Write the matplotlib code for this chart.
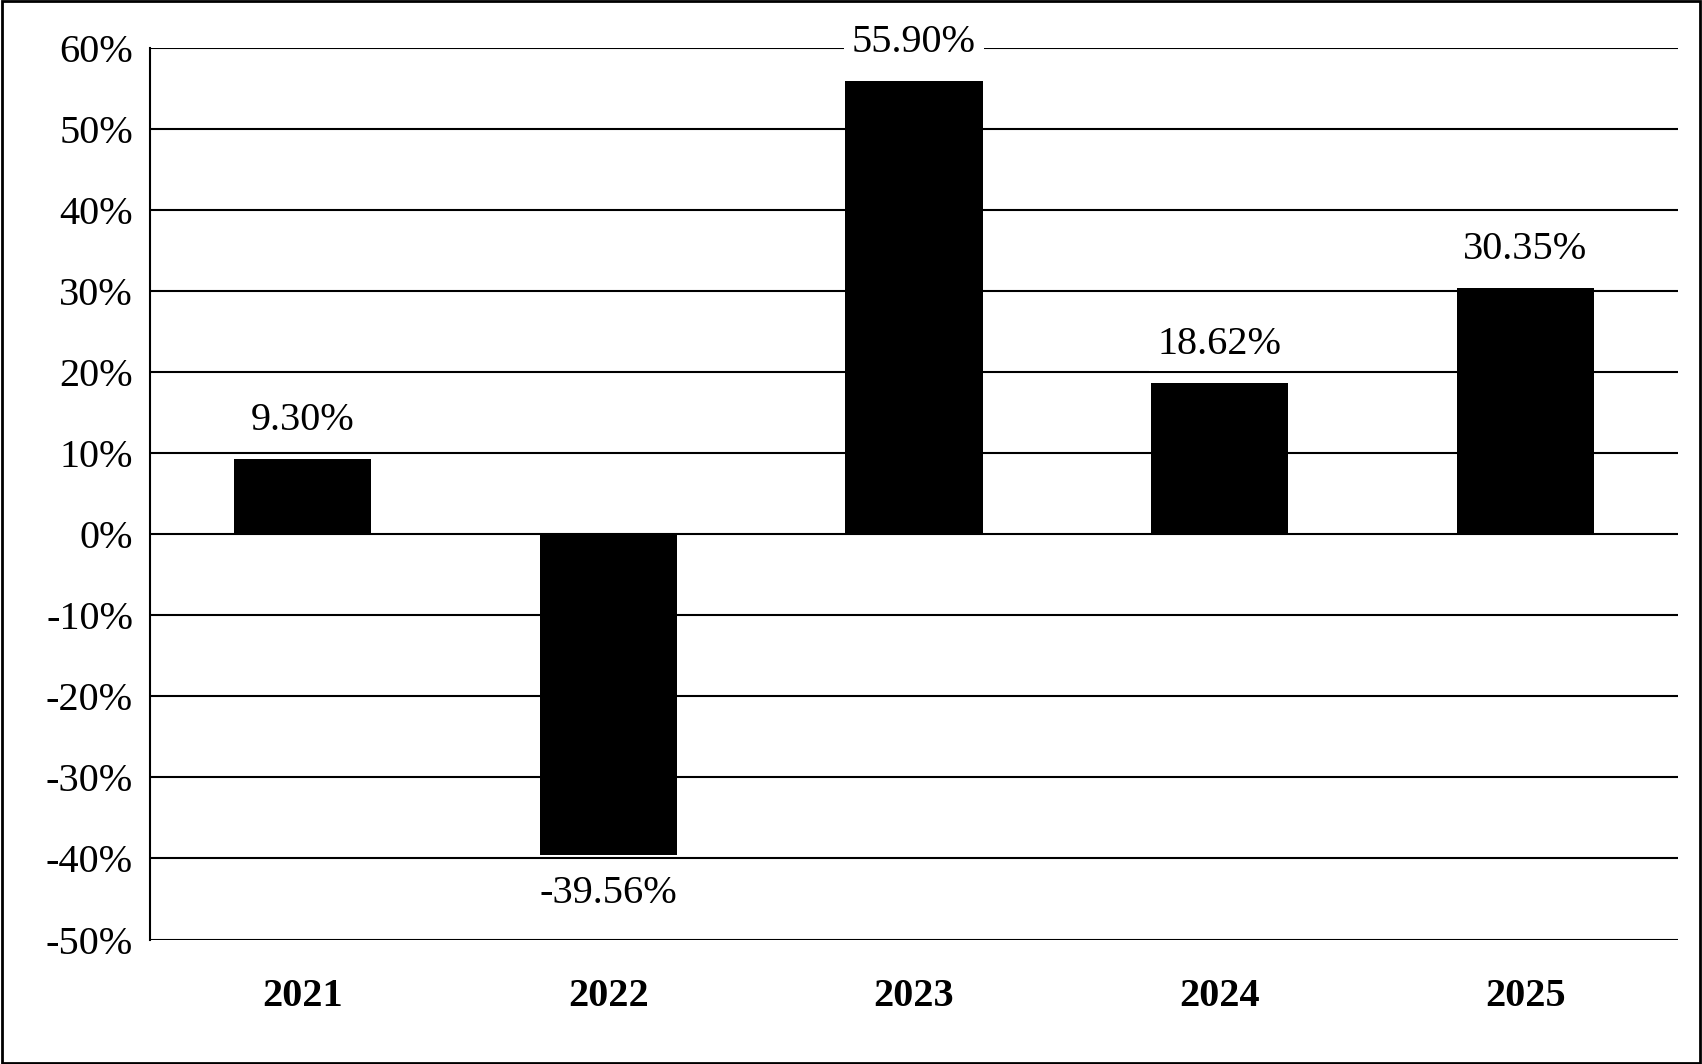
import matplotlib.pyplot as plt
import numpy as np

years = ['2021', '2022', '2023', '2024', '2025']
returns = [9.30, -39.56, 55.90, 18.62, 30.35]
yticks = list(range(-50, 61, 10))

plt.rcParams['font.family'] = ['Liberation Serif', 'DejaVu Serif']

fig = plt.figure(figsize=(17.02, 10.64), dpi=100)
ax = fig.add_axes([0.088, 0.117, 0.898, 0.838])
# outer frame
fig.patches.append(plt.Rectangle((0.001, 0.001), 0.998, 0.998, transform=fig.transFigure,
                                 fill=False, edgecolor='black', linewidth=2))

x = np.arange(len(years))
ax.set_axisbelow(True)
ax.bar(x, returns, width=0.45, color='black', zorder=3)
ax.set_xlim(-0.5, len(years) - 0.5)
ax.set_ylim(-50, 60)
ax.set_yticks(yticks)
ax.set_yticklabels([f'{v}%' for v in yticks], fontsize=29)
ax.set_xticks(x)
ax.set_xticklabels(years, fontsize=29, fontweight='bold')
ax.tick_params(length=0, pad=12)
ax.tick_params(axis='x', pad=28)
ax.grid(axis='y', color='black', linewidth=1.5)
for s in ['top', 'right', 'bottom']:
    ax.spines[s].set_visible(False)
ax.spines['left'].set_linewidth(1.5)

for xi, v in zip(x, returns):
    if v >= 0:
        ax.text(xi, v + 2.5, f'{v:.2f}%', ha='center', va='bottom', fontsize=29,
                zorder=4, bbox=dict(facecolor='white', edgecolor='none', pad=6))
    else:
        ax.text(xi, v - 2.5, f'{v:.2f}%', ha='center', va='top', fontsize=29, zorder=4)

fig.savefig('out.png', dpi=100)
